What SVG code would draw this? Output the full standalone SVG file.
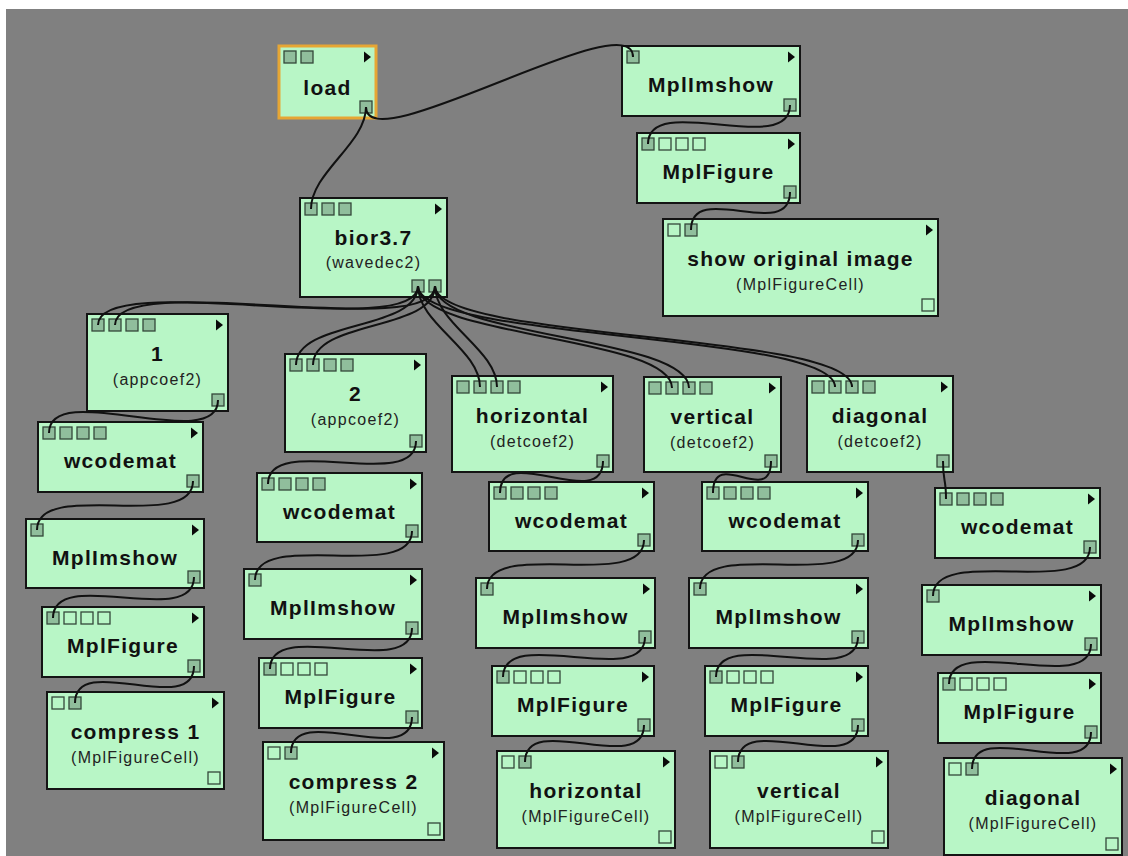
<svg xmlns="http://www.w3.org/2000/svg" width="1128" height="856" viewBox="0 0 1128 856">
<style>
.box{fill:#b8f6c6;stroke:#141414;stroke-width:2}
.sel{stroke:#e6a634;stroke-width:3}
.pf{fill:#90be9c;stroke:#34473a;stroke-width:1.3}
.pe{fill:none;stroke:#34473a;stroke-width:1.3}
.tri{fill:#0a0a0a}
.t{font-family:"Liberation Sans",Arial,sans-serif;font-weight:bold;font-size:21px;letter-spacing:1.3px;fill:#111;text-anchor:middle}
.s{font-family:"Liberation Sans",Arial,sans-serif;font-size:16px;letter-spacing:1.3px;fill:#222;text-anchor:middle}
.w{fill:none;stroke:#111;stroke-width:2}
</style>
<rect x="0" y="0" width="1128" height="856" fill="#ffffff"/>
<rect x="6" y="9" width="1122" height="847" fill="#808080"/>

<g id="n-load"><rect class="box sel" x="279" y="46" width="97" height="72"/><rect class="pf" x="284" y="51" width="12" height="12"/><rect class="pf" x="301" y="51" width="12" height="12"/><rect class="pf" x="360" y="101" width="12" height="12"/><path class="tri" d="M364,51.5 l7,5.5 l-7,5.5z"/><text class="t" x="327.5" y="95">load</text></g>

<g id="n-mi0"><rect class="box" x="622" y="46" width="178" height="70"/><rect class="pf" x="627" y="51" width="12" height="12"/><rect class="pf" x="784" y="99" width="12" height="12"/><path class="tri" d="M788,51.5 l7,5.5 l-7,5.5z"/><text class="t" x="711" y="92">MplImshow</text></g>

<g id="n-mf0"><rect class="box" x="637" y="133" width="163" height="70"/><rect class="pf" x="642" y="138" width="12" height="12"/><rect class="pe" x="659" y="138" width="12" height="12"/><rect class="pe" x="676" y="138" width="12" height="12"/><rect class="pe" x="693" y="138" width="12" height="12"/><rect class="pf" x="784" y="186" width="12" height="12"/><path class="tri" d="M788,138.5 l7,5.5 l-7,5.5z"/><text class="t" x="718.5" y="179">MplFigure</text></g>

<g id="n-cell0"><rect class="box" x="663" y="219" width="275" height="97"/><rect class="pe" x="668" y="224" width="12" height="12"/><rect class="pf" x="685" y="224" width="12" height="12"/><rect class="pe" x="922" y="299" width="12" height="12"/><path class="tri" d="M926,224.5 l7,5.5 l-7,5.5z"/><text class="t" x="800.5" y="266">show original image</text><text class="s" x="800.5" y="290">(MplFigureCell)</text></g>

<g id="n-bior"><rect class="box" x="300" y="198" width="147" height="99"/><rect class="pf" x="305" y="203" width="12" height="12"/><rect class="pf" x="322" y="203" width="12" height="12"/><rect class="pf" x="339" y="203" width="12" height="12"/><rect class="pf" x="412" y="280" width="12" height="12"/><rect class="pf" x="429" y="280" width="12" height="12"/><path class="tri" d="M435,203.5 l7,5.5 l-7,5.5z"/><text class="t" x="373.5" y="245">bior3.7</text><text class="s" x="373.5" y="268">(wavedec2)</text></g>

<g id="n-a1"><rect class="box" x="87" y="314" width="141" height="97"/><rect class="pf" x="92" y="319" width="12" height="12"/><rect class="pf" x="109" y="319" width="12" height="12"/><rect class="pf" x="126" y="319" width="12" height="12"/><rect class="pf" x="143" y="319" width="12" height="12"/><rect class="pf" x="212" y="394" width="12" height="12"/><path class="tri" d="M216,319.5 l7,5.5 l-7,5.5z"/><text class="t" x="157.5" y="361">1</text><text class="s" x="157.5" y="385">(appcoef2)</text></g>

<g id="n-a2"><rect class="box" x="285" y="354" width="141" height="98"/><rect class="pf" x="290" y="359" width="12" height="12"/><rect class="pf" x="307" y="359" width="12" height="12"/><rect class="pf" x="324" y="359" width="12" height="12"/><rect class="pf" x="341" y="359" width="12" height="12"/><rect class="pf" x="410" y="435" width="12" height="12"/><path class="tri" d="M414,359.5 l7,5.5 l-7,5.5z"/><text class="t" x="355.5" y="401">2</text><text class="s" x="355.5" y="425">(appcoef2)</text></g>

<g id="n-dh"><rect class="box" x="452" y="376" width="161" height="96"/><rect class="pf" x="457" y="381" width="12" height="12"/><rect class="pf" x="474" y="381" width="12" height="12"/><rect class="pf" x="491" y="381" width="12" height="12"/><rect class="pf" x="508" y="381" width="12" height="12"/><rect class="pf" x="597" y="455" width="12" height="12"/><path class="tri" d="M601,381.5 l7,5.5 l-7,5.5z"/><text class="t" x="532.5" y="423">horizontal</text><text class="s" x="532.5" y="447">(detcoef2)</text></g>

<g id="n-dv"><rect class="box" x="644" y="377" width="137" height="95"/><rect class="pf" x="649" y="382" width="12" height="12"/><rect class="pf" x="666" y="382" width="12" height="12"/><rect class="pf" x="683" y="382" width="12" height="12"/><rect class="pf" x="700" y="382" width="12" height="12"/><rect class="pf" x="765" y="455" width="12" height="12"/><path class="tri" d="M769,382.5 l7,5.5 l-7,5.5z"/><text class="t" x="712.5" y="424">vertical</text><text class="s" x="712.5" y="448">(detcoef2)</text></g>

<g id="n-dd"><rect class="box" x="807" y="376" width="146" height="96"/><rect class="pf" x="812" y="381" width="12" height="12"/><rect class="pf" x="829" y="381" width="12" height="12"/><rect class="pf" x="846" y="381" width="12" height="12"/><rect class="pf" x="863" y="381" width="12" height="12"/><rect class="pf" x="937" y="455" width="12" height="12"/><path class="tri" d="M941,381.5 l7,5.5 l-7,5.5z"/><text class="t" x="880" y="423">diagonal</text><text class="s" x="880" y="447">(detcoef2)</text></g>

<g id="n-wc1"><rect class="box" x="38" y="422" width="165" height="70"/><rect class="pf" x="43" y="427" width="12" height="12"/><rect class="pf" x="60" y="427" width="12" height="12"/><rect class="pf" x="77" y="427" width="12" height="12"/><rect class="pf" x="94" y="427" width="12" height="12"/><rect class="pf" x="187" y="475" width="12" height="12"/><path class="tri" d="M191,427.5 l7,5.5 l-7,5.5z"/><text class="t" x="120.5" y="468">wcodemat</text></g>

<g id="n-mi1"><rect class="box" x="26" y="519" width="178" height="69"/><rect class="pf" x="31" y="524" width="12" height="12"/><rect class="pf" x="188" y="571" width="12" height="12"/><path class="tri" d="M192,524.5 l7,5.5 l-7,5.5z"/><text class="t" x="115" y="565">MplImshow</text></g>

<g id="n-mf1"><rect class="box" x="42" y="607" width="162" height="70"/><rect class="pf" x="47" y="612" width="12" height="12"/><rect class="pe" x="64" y="612" width="12" height="12"/><rect class="pe" x="81" y="612" width="12" height="12"/><rect class="pe" x="98" y="612" width="12" height="12"/><rect class="pf" x="188" y="660" width="12" height="12"/><path class="tri" d="M192,612.5 l7,5.5 l-7,5.5z"/><text class="t" x="123" y="653">MplFigure</text></g>

<g id="n-c1"><rect class="box" x="47" y="692" width="177" height="97"/><rect class="pe" x="52" y="697" width="12" height="12"/><rect class="pf" x="69" y="697" width="12" height="12"/><rect class="pe" x="208" y="772" width="12" height="12"/><path class="tri" d="M212,697.5 l7,5.5 l-7,5.5z"/><text class="t" x="135.5" y="739">compress 1</text><text class="s" x="135.5" y="763">(MplFigureCell)</text></g>

<g id="n-wc2"><rect class="box" x="257" y="473" width="165" height="69"/><rect class="pf" x="262" y="478" width="12" height="12"/><rect class="pf" x="279" y="478" width="12" height="12"/><rect class="pf" x="296" y="478" width="12" height="12"/><rect class="pf" x="313" y="478" width="12" height="12"/><rect class="pf" x="406" y="525" width="12" height="12"/><path class="tri" d="M410,478.5 l7,5.5 l-7,5.5z"/><text class="t" x="339.5" y="519">wcodemat</text></g>

<g id="n-mi2"><rect class="box" x="244" y="569" width="178" height="70"/><rect class="pf" x="249" y="574" width="12" height="12"/><rect class="pf" x="406" y="622" width="12" height="12"/><path class="tri" d="M410,574.5 l7,5.5 l-7,5.5z"/><text class="t" x="333" y="615">MplImshow</text></g>

<g id="n-mf2"><rect class="box" x="259" y="658" width="163" height="70"/><rect class="pf" x="264" y="663" width="12" height="12"/><rect class="pe" x="281" y="663" width="12" height="12"/><rect class="pe" x="298" y="663" width="12" height="12"/><rect class="pe" x="315" y="663" width="12" height="12"/><rect class="pf" x="406" y="711" width="12" height="12"/><path class="tri" d="M410,663.5 l7,5.5 l-7,5.5z"/><text class="t" x="340.5" y="704">MplFigure</text></g>

<g id="n-c2"><rect class="box" x="263" y="742" width="181" height="98"/><rect class="pe" x="268" y="747" width="12" height="12"/><rect class="pf" x="285" y="747" width="12" height="12"/><rect class="pe" x="428" y="823" width="12" height="12"/><path class="tri" d="M432,747.5 l7,5.5 l-7,5.5z"/><text class="t" x="353.5" y="789">compress 2</text><text class="s" x="353.5" y="813">(MplFigureCell)</text></g>

<g id="n-wch"><rect class="box" x="489" y="482" width="165" height="69"/><rect class="pf" x="494" y="487" width="12" height="12"/><rect class="pf" x="511" y="487" width="12" height="12"/><rect class="pf" x="528" y="487" width="12" height="12"/><rect class="pf" x="545" y="487" width="12" height="12"/><rect class="pf" x="638" y="534" width="12" height="12"/><path class="tri" d="M642,487.5 l7,5.5 l-7,5.5z"/><text class="t" x="571.5" y="528">wcodemat</text></g>

<g id="n-mih"><rect class="box" x="476" y="578" width="179" height="70"/><rect class="pf" x="481" y="583" width="12" height="12"/><rect class="pf" x="639" y="631" width="12" height="12"/><path class="tri" d="M643,583.5 l7,5.5 l-7,5.5z"/><text class="t" x="565.5" y="624">MplImshow</text></g>

<g id="n-mfh"><rect class="box" x="492" y="666" width="162" height="70"/><rect class="pf" x="497" y="671" width="12" height="12"/><rect class="pe" x="514" y="671" width="12" height="12"/><rect class="pe" x="531" y="671" width="12" height="12"/><rect class="pe" x="548" y="671" width="12" height="12"/><rect class="pf" x="638" y="719" width="12" height="12"/><path class="tri" d="M642,671.5 l7,5.5 l-7,5.5z"/><text class="t" x="573" y="712">MplFigure</text></g>

<g id="n-ch"><rect class="box" x="497" y="751" width="178" height="97"/><rect class="pe" x="502" y="756" width="12" height="12"/><rect class="pf" x="519" y="756" width="12" height="12"/><rect class="pe" x="659" y="831" width="12" height="12"/><path class="tri" d="M663,756.5 l7,5.5 l-7,5.5z"/><text class="t" x="586" y="798">horizontal</text><text class="s" x="586" y="822">(MplFigureCell)</text></g>

<g id="n-wcv"><rect class="box" x="702" y="482" width="166" height="69"/><rect class="pf" x="707" y="487" width="12" height="12"/><rect class="pf" x="724" y="487" width="12" height="12"/><rect class="pf" x="741" y="487" width="12" height="12"/><rect class="pf" x="758" y="487" width="12" height="12"/><rect class="pf" x="852" y="534" width="12" height="12"/><path class="tri" d="M856,487.5 l7,5.5 l-7,5.5z"/><text class="t" x="785" y="528">wcodemat</text></g>

<g id="n-miv"><rect class="box" x="689" y="578" width="179" height="70"/><rect class="pf" x="694" y="583" width="12" height="12"/><rect class="pf" x="852" y="631" width="12" height="12"/><path class="tri" d="M856,583.5 l7,5.5 l-7,5.5z"/><text class="t" x="778.5" y="624">MplImshow</text></g>

<g id="n-mfv"><rect class="box" x="705" y="666" width="163" height="70"/><rect class="pf" x="710" y="671" width="12" height="12"/><rect class="pe" x="727" y="671" width="12" height="12"/><rect class="pe" x="744" y="671" width="12" height="12"/><rect class="pe" x="761" y="671" width="12" height="12"/><rect class="pf" x="852" y="719" width="12" height="12"/><path class="tri" d="M856,671.5 l7,5.5 l-7,5.5z"/><text class="t" x="786.5" y="712">MplFigure</text></g>

<g id="n-cv"><rect class="box" x="710" y="751" width="178" height="97"/><rect class="pe" x="715" y="756" width="12" height="12"/><rect class="pf" x="732" y="756" width="12" height="12"/><rect class="pe" x="872" y="831" width="12" height="12"/><path class="tri" d="M876,756.5 l7,5.5 l-7,5.5z"/><text class="t" x="799" y="798">vertical</text><text class="s" x="799" y="822">(MplFigureCell)</text></g>

<g id="n-wcd"><rect class="box" x="935" y="488" width="165" height="70"/><rect class="pf" x="940" y="493" width="12" height="12"/><rect class="pf" x="957" y="493" width="12" height="12"/><rect class="pf" x="974" y="493" width="12" height="12"/><rect class="pf" x="991" y="493" width="12" height="12"/><rect class="pf" x="1084" y="541" width="12" height="12"/><path class="tri" d="M1088,493.5 l7,5.5 l-7,5.5z"/><text class="t" x="1017.5" y="534">wcodemat</text></g>

<g id="n-mid"><rect class="box" x="922" y="585" width="179" height="70"/><rect class="pf" x="927" y="590" width="12" height="12"/><rect class="pf" x="1085" y="638" width="12" height="12"/><path class="tri" d="M1089,590.5 l7,5.5 l-7,5.5z"/><text class="t" x="1011.5" y="631">MplImshow</text></g>

<g id="n-mfd"><rect class="box" x="938" y="673" width="163" height="70"/><rect class="pf" x="943" y="678" width="12" height="12"/><rect class="pe" x="960" y="678" width="12" height="12"/><rect class="pe" x="977" y="678" width="12" height="12"/><rect class="pe" x="994" y="678" width="12" height="12"/><rect class="pf" x="1085" y="726" width="12" height="12"/><path class="tri" d="M1089,678.5 l7,5.5 l-7,5.5z"/><text class="t" x="1019.5" y="719">MplFigure</text></g>

<g id="n-cd"><rect class="box" x="944" y="758" width="178" height="97"/><rect class="pe" x="949" y="763" width="12" height="12"/><rect class="pf" x="966" y="763" width="12" height="12"/><rect class="pe" x="1106" y="838" width="12" height="12"/><path class="tri" d="M1110,763.5 l7,5.5 l-7,5.5z"/><text class="t" x="1033" y="805">diagonal</text><text class="s" x="1033" y="829">(MplFigureCell)</text></g>

<g id="connectors">
<path class="w" d="M366,107 C366,163 633,1 633,57"/>
<path class="w" d="M366,107 C366,143.4 311,172.6 311,209"/>
<path class="w" d="M790,105 C790,158.2 648,90.8 648,144"/>
<path class="w" d="M790,192 C790,242.7 691,179.3 691,230"/>
<path class="w" d="M418,286 C418,342.9 98,268.1 98,325"/>
<path class="w" d="M435,286 C435,342.9 115,268.1 115,325"/>
<path class="w" d="M418,286 C418,331.3 296,319.7 296,365"/>
<path class="w" d="M435,286 C435,331.3 313,319.7 313,365"/>
<path class="w" d="M418,286 C418,323.5 480,349.5 480,387"/>
<path class="w" d="M435,286 C435,323.5 497,349.5 497,387"/>
<path class="w" d="M418,286 C418,337.6 672,336.4 672,388"/>
<path class="w" d="M435,286 C435,337.6 689,336.4 689,388"/>
<path class="w" d="M418,286 C418,340.8 835,332.2 835,387"/>
<path class="w" d="M435,286 C435,340.8 852,332.2 852,387"/>
<path class="w" d="M218,400 C218,455.1 49,377.9 49,433"/>
<path class="w" d="M193,481 C193,533.3 37,477.7 37,530"/>
<path class="w" d="M194,577 C194,629.8 53,565.2 53,618"/>
<path class="w" d="M194,666 C194,718.3 75,650.7 75,703"/>
<path class="w" d="M416,441 C416,493.8 268,431.2 268,484"/>
<path class="w" d="M412,531 C412,583.3 255,527.7 255,580"/>
<path class="w" d="M412,628 C412,680.8 270,616.2 270,669"/>
<path class="w" d="M412,717 C412,769.6 291,700.4 291,753"/>
<path class="w" d="M603,461 C603,513.3 500,440.7 500,493"/>
<path class="w" d="M644,540 C644,592.3 487,536.7 487,589"/>
<path class="w" d="M645,637 C645,690 503,624 503,677"/>
<path class="w" d="M644,725 C644,777.3 525,709.7 525,762"/>
<path class="w" d="M771,461 C771,508.2 713,445.8 713,493"/>
<path class="w" d="M858,540 C858,592.3 700,536.7 700,589"/>
<path class="w" d="M858,637 C858,690 716,624 716,677"/>
<path class="w" d="M858,725 C858,777.3 738,709.7 738,762"/>
<path class="w" d="M943,461 C943,483 946,477 946,499"/>
<path class="w" d="M1090,547 C1090,599.3 933,543.7 933,596"/>
<path class="w" d="M1091,644 C1091,697 949,631 949,684"/>
<path class="w" d="M1091,732 C1091,784.3 972,716.7 972,769"/>
</g>
</svg>
